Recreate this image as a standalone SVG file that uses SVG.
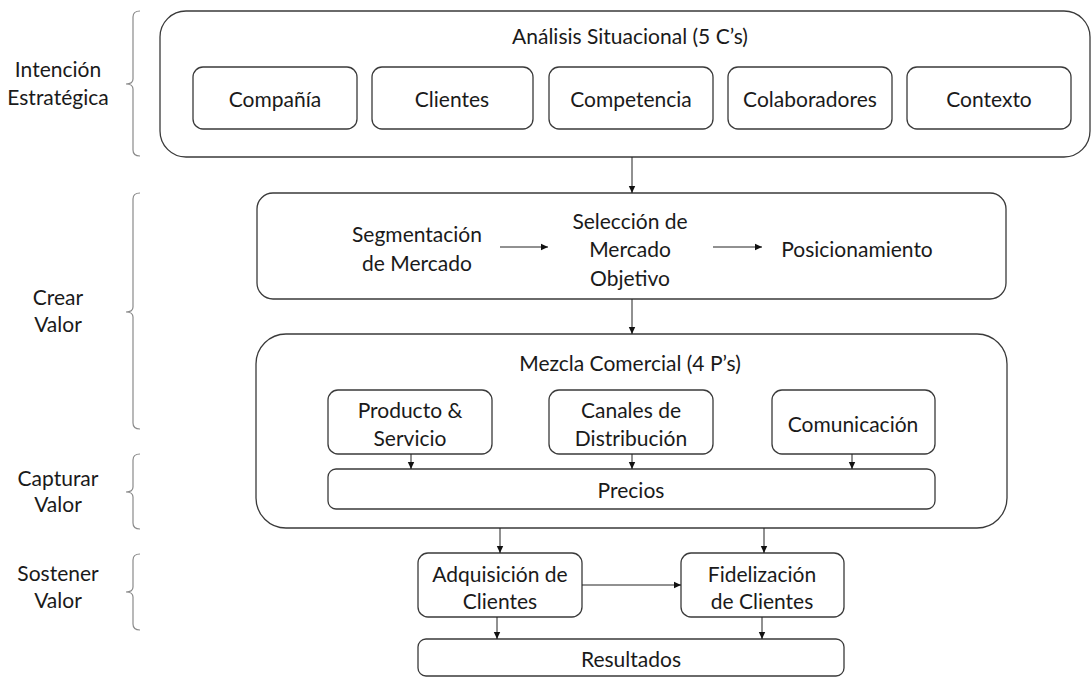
<svg xmlns="http://www.w3.org/2000/svg" width="1091" height="677" viewBox="0 0 1091 677">
<defs>
<style>
.box{fill:#fff;stroke:#3a3a3a;stroke-width:1.3}
.t{font-family:Lato,"Open Sans",sans-serif;font-size:21px;fill:#1a1a1a;text-anchor:middle;dominant-baseline:central}
.br{fill:none;stroke:#8a8a8a;stroke-width:1.2}
.c{fill:none;stroke:#222;stroke-width:1;marker-end:url(#ah)}
</style>
<marker id="ah" markerUnits="userSpaceOnUse" markerWidth="8" markerHeight="8" refX="7" refY="4" orient="auto">
<path d="M0,0.8 L7,4 L0,7.2 Z" fill="#111"/>
</marker>
</defs>
<rect width="1091" height="677" fill="#fff"/>

<g id="brackets">
<path class="br" d="M140,11 Q133,11 133,17 L133,79 Q133,84 126,84 Q133,84 133,89 L133,150 Q133,156 140,156"/>
<path class="br" d="M140,193 Q133,193 133,199 L133,307 Q133,312 126,312 Q133,312 133,317 L133,423 Q133,429 140,429"/>
<path class="br" d="M140,454 Q133,454 133,460 L133,487 Q133,492 126,492 Q133,492 133,497 L133,523 Q133,529 140,529"/>
<path class="br" d="M140,554 Q133,554 133,560 L133,587 Q133,592 126,592 Q133,592 133,597 L133,624 Q133,630 140,630"/>
</g>
<g id="labels">
<text class="t" x="58" y="68">Intención</text>
<text class="t" x="58" y="96">Estratégica</text>
<text class="t" x="58" y="296">Crear</text>
<text class="t" x="58" y="323">Valor</text>
<text class="t" x="58" y="477">Capturar</text>
<text class="t" x="58" y="503">Valor</text>
<text class="t" x="58" y="572">Sostener</text>
<text class="t" x="58" y="599">Valor</text>
</g>

<g id="analisis">
<rect class="box" x="160" y="11" width="930" height="146" rx="26"/>
<text class="t" x="630" y="35">Análisis Situacional (5 C’s)</text>
</g>
<g id="compania"><rect class="box" x="193" y="67" width="164" height="62" rx="10"/><text class="t" x="275" y="98">Compañía</text></g>
<g id="clientes"><rect class="box" x="372" y="67" width="161" height="62" rx="10"/><text class="t" x="452" y="98">Clientes</text></g>
<g id="competencia"><rect class="box" x="549" y="67" width="164" height="62" rx="10"/><text class="t" x="631" y="98">Competencia</text></g>
<g id="colaboradores"><rect class="box" x="728" y="67" width="164" height="62" rx="10"/><text class="t" x="810" y="98">Colaboradores</text></g>
<g id="contexto"><rect class="box" x="907" y="67" width="164" height="62" rx="10"/><text class="t" x="989" y="98">Contexto</text></g>

<g id="stp">
<rect class="box" x="257" y="193" width="749" height="106" rx="16"/>
</g>
<g id="segmentacion"><text class="t" x="417" y="233">Segmentación</text><text class="t" x="417" y="262">de Mercado</text></g>
<g id="seleccion"><text class="t" x="630" y="220">Selección de</text><text class="t" x="630" y="248">Mercado</text><text class="t" x="630" y="277">Objetivo</text></g>
<g id="posicionamiento"><text class="t" x="857" y="248">Posicionamiento</text></g>

<g id="mezcla">
<rect class="box" x="256" y="334" width="751" height="194" rx="30"/>
<text class="t" x="630" y="362">Mezcla Comercial (4 P’s)</text>
</g>
<g id="producto"><rect class="box" x="328" y="390" width="164" height="64" rx="10"/><text class="t" x="410" y="409">Producto &amp;</text><text class="t" x="410" y="437">Servicio</text></g>
<g id="canales"><rect class="box" x="549" y="390" width="164" height="64" rx="10"/><text class="t" x="631" y="409">Canales de</text><text class="t" x="631" y="437">Distribución</text></g>
<g id="comunicacion"><rect class="box" x="772" y="390" width="163" height="64" rx="10"/><text class="t" x="853" y="423">Comunicación</text></g>
<g id="precios"><rect class="box" x="328" y="469" width="607" height="40" rx="8"/><text class="t" x="631" y="489">Precios</text></g>

<g id="adquisicion"><rect class="box" x="418" y="553" width="164" height="64" rx="10"/><text class="t" x="500" y="573">Adquisición de</text><text class="t" x="500" y="600">Clientes</text></g>
<g id="fidelizacion"><rect class="box" x="681" y="553" width="163" height="64" rx="10"/><text class="t" x="762" y="573">Fidelización</text><text class="t" x="762" y="600">de Clientes</text></g>
<g id="resultados"><rect class="box" x="418" y="639" width="426" height="37" rx="8"/><text class="t" x="631" y="658">Resultados</text></g>

<g id="connectors">
<line class="c" x1="632" y1="157" x2="632" y2="193"/>
<line class="c" x1="500" y1="247" x2="548" y2="247"/>
<line class="c" x1="713" y1="247" x2="762" y2="247"/>
<line class="c" x1="632" y1="299" x2="632" y2="334"/>
<line class="c" x1="411" y1="454" x2="411" y2="469"/>
<line class="c" x1="632" y1="454" x2="632" y2="469"/>
<line class="c" x1="852" y1="454" x2="852" y2="469"/>
<line class="c" x1="500" y1="528" x2="500" y2="553"/>
<line class="c" x1="764" y1="528" x2="764" y2="553"/>
<line class="c" x1="582" y1="585" x2="681" y2="585"/>
<line class="c" x1="497" y1="617" x2="497" y2="639"/>
<line class="c" x1="762" y1="617" x2="762" y2="639"/>
</g>
</svg>
